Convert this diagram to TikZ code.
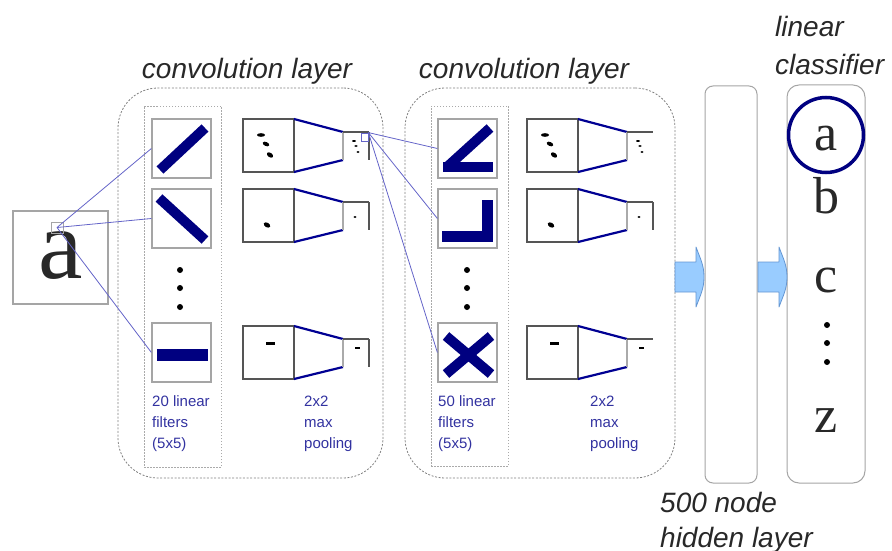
\documentclass[tikz,border=0pt]{standalone}
\usepackage{fontspec}
\setmainfont{Liberation Serif}
\setsansfont{Liberation Sans}
\usetikzlibrary{calc}
\definecolor{navyc}{RGB}{0,0,128}
\definecolor{linkc}{RGB}{100,100,200}
\definecolor{txtblue}{RGB}{50,50,160}
\definecolor{graybox}{RGB}{165,165,165}
\definecolor{darkline}{RGB}{85,85,85}
\definecolor{lightline}{RGB}{170,170,170}
\definecolor{arrowfill}{RGB}{153,204,255}
\definecolor{arrowdraw}{RGB}{100,150,210}
\definecolor{labelc}{RGB}{40,40,40}
\tikzset{
  sz/.style 2 args={minimum width=#1pt, minimum height=#2pt, inner sep=0pt},
  layerbox/.style={draw=gray, dash pattern=on 2pt off 1.6pt, line width=0.8pt, rounded corners=40pt},
  colbox/.style={draw=lightline, dash pattern=on 1.5pt off 1.5pt, line width=0.8pt},
  filt/.style={draw=graybox, line width=1.2pt, sz={59}{59}},
  bar/.style={navyc, line width=10pt},
  link/.style={draw=linkc, line width=0.8pt},
  pgray/.style={draw=darkline, line width=1.6pt},
  plight/.style={draw=lightline, line width=1.4pt},
  pblue/.style={draw=navyc!85!blue, line width=2.2pt},
  lbl/.style={font=\sffamily\itshape\fontsize{28}{32}\selectfont, text=labelc, inner sep=0pt},
  smalltxt/.style={font=\sffamily\fontsize{15}{18}\selectfont, text=txtblue, inner sep=0pt, anchor=base west},
  cls/.style={font=\fontsize{52}{52}\selectfont, text=labelc, inner sep=0pt, anchor=base},
  bigarrow/.style={fill=arrowfill, draw=arrowdraw, line width=0.8pt, line join=round}
}
\newcommand\poolrow[3]{%
  \begin{scope}[shift={(#1,#2)}]
    \draw[pgray] (0,0) rectangle (51,53);
    \draw[pblue] (51,0) -- (100,13) (51,53) -- (100,41);
    \draw[plight] (100,13) -- (100,41);
    \draw[pgray] (100,13) -- (126,13);
    \ifnum#3=1 \draw[pgray] (126,13) -- (126,41);\fi
  \end{scope}}
\begin{document}
\begin{tikzpicture}[x=1pt,y=-1pt]
\useasboundingbox (0,0) rectangle (892,551);

% layer frames
\node[layerbox, sz={265}{390}] (conv1) at (250.5,283) {};
\node[layerbox, sz={270}{390}] (conv2) at (540,283) {};
\node[colbox, sz={77}{361}] (col1) at (182.5,286.5) {};
\node[colbox, sz={77}{360}] (col2) at (469.5,286) {};

% labels
\node[lbl, anchor=base] (cl1) at (247,78) {convolution layer};
\node[lbl, anchor=base] (cl2) at (524,78) {convolution layer};
\node[lbl, anchor=base west] (lc1) at (775,37) {linear};
\node[lbl, anchor=base west] (lc2) at (775,75) {classifier};
\node[lbl, anchor=base west] (hl1) at (660,512) {500 node};
\node[lbl, anchor=base west] (hl2) at (660,547) {hidden layer};

% input
\node[draw=graybox, line width=1.2pt, sz={95}{93}] (inbox) at (60.5,257.5) {};
\node[font=\fontsize{100}{100}\selectfont, text=labelc, anchor=base, inner sep=0pt] (bigA) at (61,278) {a};
\node[draw=graybox, line width=1pt, sz={12}{11}] (patch1) at (57,227.5) {};

% filter boxes layer 1
\node[filt] (f11) at (181.5,148.5) {};
\node[filt] (f12) at (181.5,218.5) {};
\node[filt] (f13) at (181.5,352.5) {};
\draw[bar] (160,170) -- (205,128);
\draw[bar] (159,198) -- (205,240);
\fill[navyc] (157,349) rectangle (208,361);
\foreach \yy in {270,288,307} \fill (180,\yy) circle (3);

% filter boxes layer 2
\node[filt] (f21) at (467.5,148.5) {};
\node[filt] (f22) at (467.5,218.5) {};
\node[filt] (f23) at (467.5,352.5) {};
\fill[navyc] (443,162) rectangle (493,172);
\draw[bar] (447,167) -- (490,128);
\fill[navyc] (482,200) rectangle (493,242);
\fill[navyc] (442,231) rectangle (493,242);
\draw[bar] (446,336) -- (491,374);
\draw[bar] (446,374) -- (491,336);
\foreach \yy in {270,288,307} \fill (467,\yy) circle (3);

% pooling layer 1
\poolrow{243}{119}{1}
\poolrow{243}{189}{1}
\poolrow{243}{326}{1}
% pooling layer 2
\poolrow{527}{119}{0}
\poolrow{527}{189}{1}
\poolrow{527}{326}{0}

% feature blobs
\foreach \xo in {243,527}{
  \begin{scope}[shift={(\xo,119)}]
    \fill (18,16) ellipse [x radius=4, y radius=1.8];
    \fill[rotate around={-25:(23,25)}] (23,25) ellipse [x radius=3.5, y radius=2];
    \fill[rotate around={-35:(27,36)}] (27,36) ellipse [x radius=3.5, y radius=2.2];
    \fill (111,22) ellipse [x radius=2, y radius=0.9];
    \fill (113,27) ellipse [x radius=1.8, y radius=1];
    \fill (115,33) ellipse [x radius=1.6, y radius=1];
  \end{scope}
  \begin{scope}[shift={(\xo,189)}]
    \fill[rotate around={-30:(24,36)}] (24,36) ellipse [x radius=3.5, y radius=2.3];
    \fill (112,28) ellipse [x radius=1.6, y radius=1];
  \end{scope}
  \begin{scope}[shift={(\xo,326)}]
    \fill (23,15.5) rectangle (32,18.5);
    \fill (112,21.3) rectangle (117,22.7);
  \end{scope}
}
\node[draw=linkc, line width=0.8pt, sz={7}{8}] (patch2) at (364.5,137) {};

% connectors
\draw[link] (patch1.center) -- (f11.west);
\draw[link] (patch1.center) -- (f12.west);
\draw[link] (patch1.center) -- (f13.west);
\draw[link] (patch2.north east) -- (f21.west);
\draw[link] (patch2.north east) -- (f22.west);
\draw[link] (patch2.north east) -- (f23.west);

% texts under columns
\node[smalltxt] (t1a) at (152,406) {20 linear};
\node[smalltxt] (t1b) at (152,427) {filters};
\node[smalltxt] (t1c) at (152,448) {(5x5)};
\node[smalltxt] (p1a) at (304,406) {2x2};
\node[smalltxt] (p1b) at (304,427) {max};
\node[smalltxt] (p1c) at (304,448) {pooling};
\node[smalltxt] (t2a) at (438,406) {50 linear};
\node[smalltxt] (t2b) at (438,427) {filters};
\node[smalltxt] (t2c) at (438,448) {(5x5)};
\node[smalltxt] (p2a) at (590,406) {2x2};
\node[smalltxt] (p2b) at (590,427) {max};
\node[smalltxt] (p2c) at (590,448) {pooling};

% hidden and classifier
\node[draw=graybox, line width=1pt, rounded corners=8pt, sz={52}{397}] (hidden) at (731,284.5) {};
\node[draw=graybox, line width=1pt, rounded corners=12pt, sz={78}{398}] (classif) at (826,284) {};
\node[draw=navyc, line width=3.5pt, circle, minimum size=75pt, inner sep=0pt] (ring) at (826,135) {};
\node[cls] (la) at (826,150) {a};
\node[cls] (lb) at (826,213) {b};
\node[cls] (lcc) at (826,292) {c};
\node[cls] (lz) at (826,432) {z};
\foreach \yy in {325,343,362} \fill (827,\yy) circle (3);

% block arrows
\draw[bigarrow] (675,262) -- (696,262) -- (696,247) to[out=-70,in=90] (704,277) to[out=-90,in=70] (696,307) -- (696,292) -- (675,292) -- cycle;
\draw[bigarrow] (758,262) -- (779,262) -- (779,247) to[out=-70,in=90] (787,277) to[out=-90,in=70] (779,307) -- (779,292) -- (758,292) -- cycle;
\end{tikzpicture}
\end{document}
